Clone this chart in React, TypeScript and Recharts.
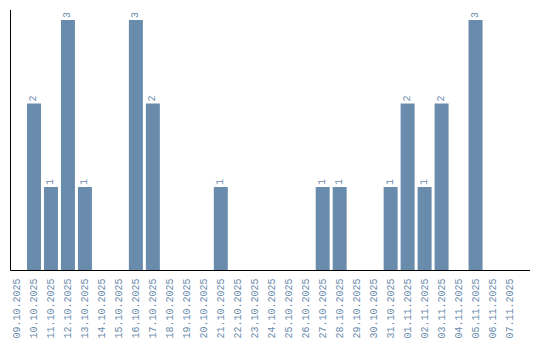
import React from 'react';
import { BarChart, Bar, XAxis, YAxis, LabelList } from 'recharts';

const dates = [
  '09.10.2025', '10.10.2025', '11.10.2025', '12.10.2025', '13.10.2025', '14.10.2025',
  '15.10.2025', '16.10.2025', '17.10.2025', '18.10.2025', '19.10.2025', '20.10.2025',
  '21.10.2025', '22.10.2025', '23.10.2025', '24.10.2025', '25.10.2025', '26.10.2025',
  '27.10.2025', '28.10.2025', '29.10.2025', '30.10.2025', '31.10.2025', '01.11.2025',
  '02.11.2025', '03.11.2025', '04.11.2025', '05.11.2025', '06.11.2025', '07.11.2025',
];
const counts = [0, 2, 1, 3, 1, 0, 0, 3, 2, 0, 0, 0, 1, 0, 0, 0, 0, 0, 1, 1, 0, 0, 1, 2, 1, 2, 0, 3, 0, 0];

const data = dates.map((d, i) => ({ date: d, count: counts[i] }));

const COLOR = '#6a8cac';
const FONT = '"Liberation Mono", monospace';

const DateTick = (props: any) => {
  const { x, y, payload } = props;
  return (
    <text
      x={x}
      y={y}
      transform={`rotate(-90, ${x}, ${y})`}
      textAnchor="end"
      dominantBaseline="central"
      fill={COLOR}
      fontSize={10}
      fontFamily={FONT}
    >
      {payload.value}
    </text>
  );
};

const ValueLabel = (props: any) => {
  const { x, y, width, value } = props;
  if (!value) return null;
  const cx = x + width / 2;
  const cy = y - 2;
  return (
    <text
      x={cx}
      y={cy}
      transform={`rotate(-90, ${cx}, ${cy})`}
      textAnchor="start"
      dominantBaseline="central"
      fill={COLOR}
      fontSize={10}
      fontFamily={FONT}
    >
      {value}
    </text>
  );
};

export default function App() {
  return (
    <div style={{ position: 'absolute', left: 0, top: 0, background: '#fff' }}>
      <BarChart width={540} height={340} data={data} margin={{ top: 10, right: 10, left: 9.5, bottom: 0 }}>
        <XAxis
          dataKey="date"
          interval={0}
          padding={{ left: -1.5, right: 11.5 }}
          tickLine={false}
          axisLine={{ stroke: '#000' }}
          tick={<DateTick />}
          height={69.5}
        />
        <YAxis
          width={1}
          domain={[0, 3.12]}
          tick={false}
          tickLine={false}
          axisLine={{ stroke: '#000' }}
        />
        <Bar dataKey="count" fill={COLOR} barSize={14} isAnimationActive={false}>
          <LabelList dataKey="count" content={<ValueLabel />} />
        </Bar>
      </BarChart>
    </div>
  );
}
